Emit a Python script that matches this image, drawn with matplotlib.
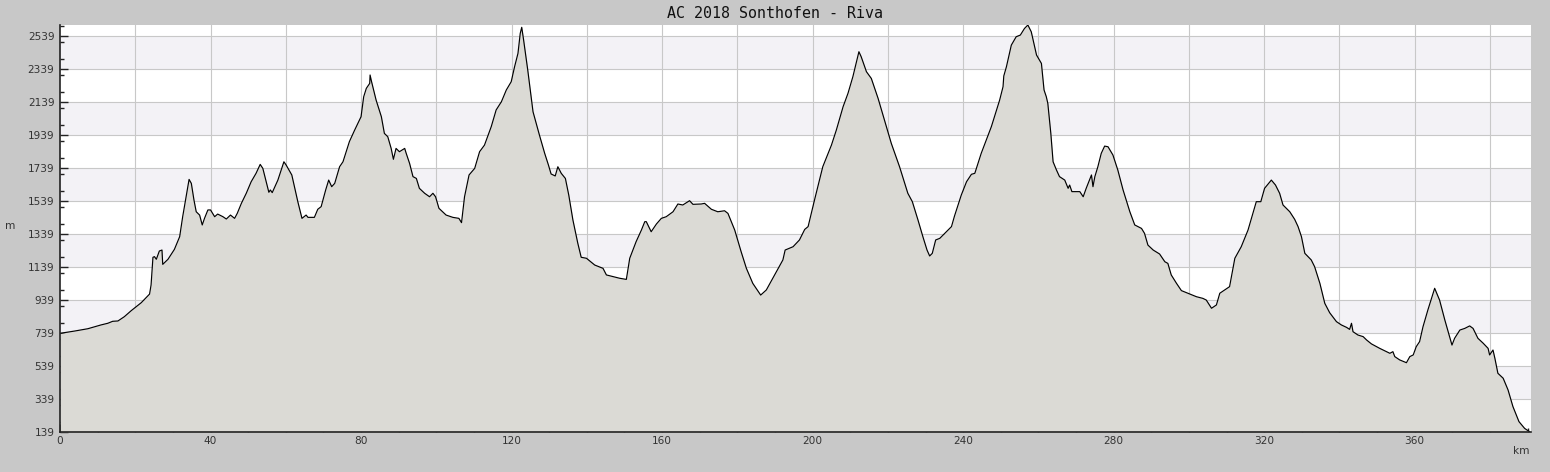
import numpy as np
import matplotlib
matplotlib.use("Agg")
import matplotlib.pyplot as plt
from matplotlib.ticker import MultipleLocator, FuncFormatter

title = "AC 2018 Sonthofen - Riva"

# distance along the route (km) and elevation (m)
km = [0, 3.9, 7.4, 10.9, 12.7, 14.0, 15.4, 17.1, 18.9, 21.6, 23.8, 24.2, 24.7, 25.1,
      25.6, 26.4, 27.1, 27.3, 28.7, 30.4, 31.8, 32.6, 33.5, 34.3, 34.9, 35.6, 36.2,
      37.1, 37.8, 38.4, 39.3, 40.0, 41.1, 41.9, 43.3, 44.2, 45.3, 46.4, 47.1, 48.2,
      49.5, 50.8, 52.1, 53.2, 53.9, 55.5, 55.9, 56.4, 57.9, 59.5, 60.1, 61.6, 63.2,
      64.3, 65.4, 65.9, 67.6, 68.5, 69.4, 70.6, 71.4, 72.2, 73.0, 74.3, 75.2, 76.9,
      78.3, 80.0, 80.7, 81.4, 82.3, 82.4, 82.8, 84.0, 85.4, 86.2, 87.1, 88.0, 88.6,
      89.3, 90.2, 91.6, 92.0, 92.9, 93.8, 94.7, 95.5, 96.9, 98.2, 99.1, 99.8, 100.7,
      102.6, 104.4, 106.0, 106.7, 107.5, 108.7, 110.2, 111.5, 112.8, 114.6, 115.9,
      117.3, 118.6, 119.9, 120.8, 121.7, 122.3, 122.7, 123.2, 124.3, 125.7, 127.4,
      128.8, 129.8, 130.5, 131.6, 132.3, 133.2, 134.3, 135.2, 136.3, 137.6, 138.5,
      139.9, 142.1, 144.3, 145.2, 146.9, 148.7, 150.5, 151.4, 153.1, 154.5, 155.4,
      155.8, 157.1, 158.5, 159.8, 161.1, 162.9, 164.2, 165.5, 167.3, 168.2, 170.4,
      171.3, 173.1, 174.8, 176.6, 177.5, 179.3, 181.0, 182.4, 184.1, 186.2, 187.7,
      189.9, 192.1, 192.7, 194.8, 196.5, 197.9, 198.8, 200.5, 202.7, 205.0, 206.3,
      208.1, 209.4, 210.7, 212.3, 212.9, 214.3, 215.6, 217.4, 219.1, 220.9, 223.1,
      225.3, 226.5, 228.0, 229.3, 230.4, 231.1, 231.8, 232.7, 233.8, 235.1, 236.9,
      237.7, 239.5, 240.9, 242.2, 243.1, 244.8, 247.5, 249.7, 250.6, 250.8, 251.5,
      252.8, 254.1, 255.2, 256.3, 257.2, 258.1, 259.5, 260.8, 261.5, 262.1, 262.5,
      263.3, 263.9, 264.8, 265.6, 267.0, 267.9, 268.3, 268.9, 271.0, 271.9, 272.7,
      274.1, 274.5, 275.0, 275.8, 276.7, 277.6, 278.5, 279.8, 281.1, 282.5, 284.3,
      285.6, 287.4, 288.2, 289.1, 290.5, 292.2, 293.6, 294.4, 295.3, 296.7, 298.0,
      300.2, 302.0, 303.7, 304.6, 306.0, 307.3, 308.2, 309.5, 310.8, 312.2, 313.9,
      315.7, 317.9, 319.1, 320.1, 321.9, 323.0, 324.1, 325.0, 326.8, 328.1, 329.0,
      329.9, 330.8, 332.5, 333.4, 334.8, 336.1, 337.4, 339.2, 340.5, 341.9, 342.7,
      343.2, 343.6, 344.9, 346.3, 347.2, 348.5, 350.7, 352.5, 353.4, 354.2, 354.7,
      356.0, 357.8, 358.7, 359.6, 360.4, 361.3, 362.2, 363.5, 365.3, 366.6, 368.0,
      369.9, 370.6, 372.0, 373.3, 374.6, 375.5, 376.8, 378.2, 379.5, 379.9, 380.8,
      381.3, 382.1, 383.5, 384.8, 386.1, 387.7, 389.2, 390.5]
elev = [737, 751, 765, 788, 798, 810, 812, 838, 874, 923, 975, 1030, 1198, 1202,
        1186, 1236, 1242, 1155, 1186, 1246, 1323, 1444, 1565, 1670, 1646, 1545, 1474,
        1454, 1394, 1434, 1485, 1485, 1444, 1460, 1444, 1430, 1454, 1434, 1464, 1525,
        1586, 1656, 1707, 1761, 1737, 1592, 1606, 1590, 1666, 1777, 1757, 1697, 1535,
        1434, 1454, 1440, 1440, 1489, 1505, 1606, 1666, 1626, 1646, 1747, 1777, 1899,
        1969, 2050, 2171, 2222, 2252, 2303, 2262, 2151, 2050, 1949, 1929, 1858, 1792,
        1858, 1838, 1858, 1828, 1767, 1687, 1676, 1616, 1586, 1565, 1586, 1565, 1495,
        1454, 1440, 1434, 1408, 1565, 1697, 1737, 1838, 1878, 1990, 2091,
        2141, 2212, 2262, 2353, 2434, 2555, 2592, 2515, 2333, 2080, 1939,
        1828, 1757, 1703, 1691, 1747, 1707, 1676, 1575, 1424, 1283, 1198,
        1192, 1151, 1131, 1091, 1081, 1071, 1064, 1192, 1293, 1363, 1414,
        1414, 1353, 1400, 1434, 1444, 1474, 1521, 1515, 1541, 1519, 1521,
        1525, 1489, 1474, 1480, 1464, 1363, 1232, 1131, 1040, 969, 1000,
        1091, 1182, 1242, 1262, 1303, 1367, 1384, 1545, 1747, 1878, 1969,
        2111, 2192, 2293, 2444, 2414, 2323, 2282, 2161, 2030, 1889, 1747,
        1586, 1535, 1424, 1323, 1242, 1206, 1222, 1303, 1313, 1343, 1384,
        1448, 1575, 1656, 1701, 1707, 1828, 1990, 2151, 2232, 2297, 2353,
        2484, 2535, 2545, 2585, 2606, 2565, 2424, 2373, 2212, 2171, 2131,
        1949, 1777, 1727, 1687, 1666, 1616, 1636, 1596, 1596, 1565, 1616,
        1697, 1626, 1687, 1747, 1828, 1872, 1868, 1818, 1727, 1606, 1474,
        1394, 1373, 1343, 1272, 1242, 1218, 1171, 1161, 1091, 1040, 996,
        976, 959, 949, 939, 889, 909, 980, 1000, 1020, 1192, 1262,
        1363, 1535, 1535, 1616, 1666, 1636, 1586, 1515, 1474, 1428, 1384,
        1323, 1222, 1182, 1141, 1040, 919, 862, 808, 788, 773, 761,
        798, 747, 727, 717, 697, 673, 646, 626, 616, 626, 596,
        576, 559, 596, 606, 656, 687, 777, 879, 1010, 939, 818,
        666, 707, 757, 767, 782, 767, 707, 677, 646, 606, 636,
        586, 495, 465, 394, 293, 202, 161, 141]

y_ticks = [139, 339, 539, 739, 939, 1139, 1339, 1539, 1739, 1939, 2139, 2339, 2539]
x_ticks = [0, 40, 80, 120, 160, 200, 240, 280, 320, 360]

bg = "#c8c8c8"
band = "#f3f2f6"
fill = "#dbdad5"
grid = "#c8c8c8"

fig = plt.figure(figsize=(15.5, 4.72), dpi=100, facecolor=bg)
ax = fig.add_axes([60 / 1550, 40 / 472, 1471 / 1550, 407 / 472])
ax.set_facecolor("white")

ymin, ymax = 139, 2606
xmax = 390.9

# alternating horizontal bands
for i in range(1, len(y_ticks) - 1, 2):
    ax.axhspan(y_ticks[i], y_ticks[i + 1], color=band, lw=0, zorder=0)

for yt in y_ticks[1:]:
    ax.axhline(yt, color=grid, lw=0.8, zorder=1)
for xt in np.arange(20, xmax, 20):
    ax.axvline(xt, color=grid, lw=0.8, zorder=1)

ax.fill_between(km, elev, ymin, color=fill, lw=0, zorder=2)
ax.plot(km, elev, color="black", lw=0.85, zorder=3)

ax.set_xlim(0, xmax)
ax.set_ylim(ymin, ymax)

ax.set_yticks(y_ticks)
ax.yaxis.set_minor_locator(MultipleLocator(100))
ax.xaxis.set_major_locator(MultipleLocator(20))
ax.xaxis.set_minor_locator(MultipleLocator(10))
ax.xaxis.set_major_formatter(FuncFormatter(
    lambda v, p: f"{int(round(v))}" if int(round(v)) in x_ticks else ""))

ax.tick_params(axis="both", which="major", direction="in", length=6, width=1,
               color="#222222", labelsize=7.6, labelcolor="#333333")
ax.tick_params(axis="both", which="minor", direction="in", length=3, width=1,
               color="#222222")
ax.tick_params(axis="y", pad=4)
ax.tick_params(axis="x", pad=3)

for s in ["top", "right"]:
    ax.spines[s].set_visible(False)
for s in ["left", "bottom"]:
    ax.spines[s].set_color("#222222")
    ax.spines[s].set_linewidth(1.2)
    ax.spines[s].set_zorder(5)

fig.text(0.5, 1 - 14 / 472, title, ha="center", va="center",
         family="DejaVu Sans Mono", fontsize=10.8, color="#111111")
fig.text(10 / 1550, 1 - 226 / 472, "m", ha="center", va="center",
         fontsize=7.6, color="#333333")
fig.text(1530 / 1550, 1 - 451 / 472, "km", ha="right", va="center",
         fontsize=7.6, color="#333333")

fig.savefig("out.png", dpi=100, facecolor=bg)
